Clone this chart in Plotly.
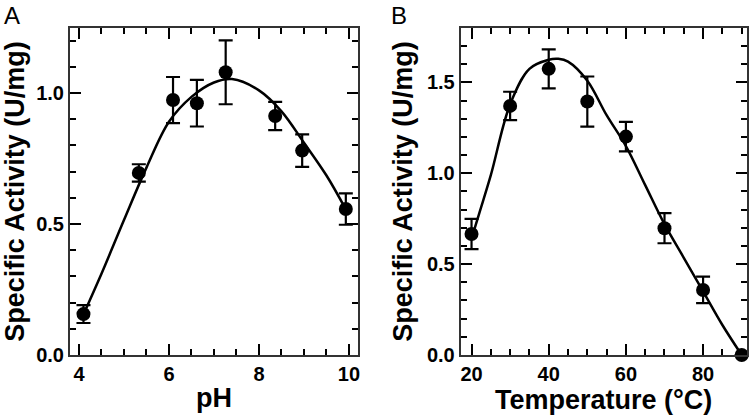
import plotly.graph_objects as go
from plotly.subplots import make_subplots

# Panel A: pH
ph_x = [4.1, 5.33, 6.09, 6.62, 7.26, 8.36, 8.96, 9.93]
ph_y = [0.156, 0.695, 0.973, 0.961, 1.079, 0.912, 0.780, 0.557]
ph_err = [0.034, 0.033, 0.088, 0.089, 0.122, 0.054, 0.062, 0.06]
ph_fit_x = [4.1, 4.5, 5.0, 5.5, 6.0, 6.5, 7.0, 7.4, 8.0, 8.5, 9.0, 9.5, 9.9]
ph_fit_y = [0.155, 0.31, 0.515, 0.715, 0.89, 0.985, 1.04, 1.053, 1.01, 0.93, 0.81, 0.685, 0.565]

# Panel B: temperature
t_x = [20, 30, 40, 50, 60, 70, 80, 90]
t_y = [0.666, 1.371, 1.575, 1.395, 1.202, 0.698, 0.358, 0.0]
t_err = [0.083, 0.078, 0.107, 0.138, 0.081, 0.083, 0.073, 0.0]
t_fit_x = [20, 22, 25, 30, 35, 40, 42.5, 45, 50, 55, 60, 65, 70, 75, 80, 85, 90]
t_fit_y = [0.64, 0.78, 0.99, 1.38, 1.575, 1.625, 1.63, 1.615, 1.51, 1.32, 1.15, 0.935, 0.72, 0.535, 0.35, 0.165, 0.0]

FONT = "Liberation Sans, Arial, Helvetica, sans-serif"
TITLE_FONT = dict(family=FONT, size=27, color="black", weight="bold")

fig = make_subplots(rows=1, cols=2)

for col, fx, fy, x, y, e in [(1, ph_fit_x, ph_fit_y, ph_x, ph_y, ph_err),
                             (2, t_fit_x, t_fit_y, t_x, t_y, t_err)]:
    fig.add_trace(go.Scatter(x=fx, y=fy, mode="lines", line=dict(color="black", width=2.5, shape="spline", smoothing=1.0),
                             showlegend=False, hoverinfo="skip", cliponaxis=False), row=1, col=col)
    fig.add_trace(go.Scatter(x=x, y=y, mode="markers",
                             marker=dict(color="black", size=14),
                             error_y=dict(type="data", array=e, visible=True, color="black", thickness=2.2, width=7),
                             showlegend=False, cliponaxis=False), row=1, col=col)

axis_common = dict(showline=True, linecolor="#333", linewidth=2, mirror="allticks",
                   ticks="inside", tickcolor="black", tickwidth=1.5, ticklen=11,
                   showgrid=False, zeroline=False, automargin=False,
                   tickfont=dict(family=FONT, size=20, color="black", weight="bold"))

fig.update_xaxes(axis_common)
fig.update_yaxes(axis_common)

fig.update_xaxes(domain=[0.0933, 0.4773], range=[3.8, 10.2], tickvals=[4, 6, 8, 10],
                 minor=dict(ticks="inside", ticklen=6, dtick=0.5, tick0=4, tickcolor="black", tickwidth=1.5, showgrid=False),
                 title=dict(text="pH", font=TITLE_FONT, standoff=4),
                 row=1, col=1)
fig.update_xaxes(domain=[0.6143, 0.9956], range=[17.2, 91.3], tickvals=[20, 40, 60, 80],
                 minor=dict(ticks="inside", ticklen=6, dtick=5, tick0=0, tickcolor="black", tickwidth=1.5, showgrid=False),
                 title=dict(text="Temperature (°C)", font=TITLE_FONT, standoff=4),
                 row=1, col=2)
fig.update_yaxes(domain=[0.1487, 0.9329], range=[0, 1.248], tickvals=[0, 0.5, 1.0], ticktext=["0.0", "0.5", "1.0"],
                 minor=dict(ticks="inside", ticklen=6, dtick=0.1, tick0=0, tickcolor="black", tickwidth=1.5, showgrid=False),
                 title=dict(text="Specific Activity (U/mg)", font=TITLE_FONT, standoff=6),
                 row=1, col=1)
fig.update_yaxes(domain=[0.1487, 0.9329], range=[0, 1.8], tickvals=[0, 0.5, 1.0, 1.5], ticktext=["0.0", "0.5", "1.0", "1.5"],
                 minor=dict(ticks="inside", ticklen=6, dtick=0.1, tick0=0, tickcolor="black", tickwidth=1.5, showgrid=False),
                 title=dict(text="Specific Activity (U/mg)", font=TITLE_FONT, standoff=6),
                 row=1, col=2)

fig.add_annotation(text="A", x=0.002, y=1.0, xref="paper", yref="paper", xanchor="left", yanchor="top",
                   showarrow=False, font=dict(family=FONT, size=24, color="black"))
fig.add_annotation(text="B", x=0.518, y=1.0, xref="paper", yref="paper", xanchor="left", yanchor="top",
                   showarrow=False, font=dict(family=FONT, size=24, color="black"))

fig.update_layout(width=750, height=417, margin=dict(l=0, r=0, t=0, b=0),
                  paper_bgcolor="white", plot_bgcolor="white")

fig.write_html("out.html", config={"displayModeBar": False},
               post_script="document.body.style.margin='0px';document.body.style.overflow='hidden';")
